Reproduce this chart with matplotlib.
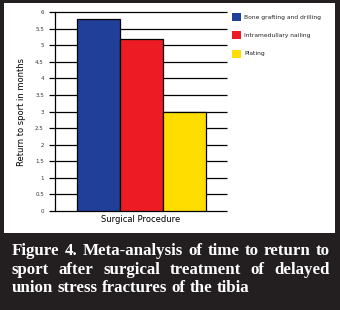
import matplotlib
matplotlib.use('Agg')
import matplotlib.pyplot as plt
from matplotlib.patches import Rectangle

categories = ['Bone grafting and drilling', 'Intramedullary nailing', 'Plating']
values = [5.8, 5.2, 3.0]
bar_colors = ['#1f3f99', '#ed1c24', '#ffdd00']
yticks = [0, 0.5, 1, 1.5, 2, 2.5, 3, 3.5, 4, 4.5, 5, 5.5, 6]
ytick_labels = ['0', '0.5', '1', '1.5', '2', '2.5', '3', '3.5', '4', '4.5', '5', '5.5', '6']
ylabel = 'Return to sport in months'
xlabel = 'Surgical Procedure'
caption_lines = ['Figure 4. Meta-analysis of time to return to',
                 'sport after surgical treatment of delayed',
                 'union stress fractures of the tibia']

W, H = 340, 310
DARK = '#231f20'
fig = plt.figure(figsize=(W / 100, H / 100), dpi=100)
fig.patch.set_facecolor(DARK)

# white panel
fig.patches.append(Rectangle((4 / W, 1 - 233 / H), (335 - 4) / W, (233 - 3) / H,
                             transform=fig.transFigure, facecolor='white',
                             edgecolor='none', zorder=-5))

ax = fig.add_axes([55 / W, 1 - 211 / H, 172 / W, 199 / H])
ax.set_zorder(1)
ax.set_facecolor('none')
x = list(range(len(values)))
ax.bar(x, values, width=1, color=bar_colors, edgecolor='black', linewidth=0.9, zorder=3)
ax.set_xlim(-1.0, 3.0)
ax.set_ylim(0, 6)
ax.hlines(yticks, 0, 1, transform=ax.get_yaxis_transform(), colors='black',
          linewidth=0.9, clip_on=False, zorder=1)
ax.set_yticks(yticks)
ax.set_yticklabels(ytick_labels, fontsize=4, color='#333333')
ax.tick_params(axis='y', length=4, width=0.9, pad=4)
ax.set_xticks([])
for s in ['top', 'right', 'bottom']:
    ax.spines[s].set_visible(False)
ax.spines['left'].set_linewidth(0.9)

ax.set_ylabel(ylabel, fontsize=6, family='DejaVu Sans')
ax.yaxis.label.set_va('center')
ax.yaxis.set_label_coords((22 - 55) / 172, 0.5)
ax.set_xlabel(xlabel, fontsize=6, family='DejaVu Sans')
ax.xaxis.label.set_va('center')
ax.xaxis.set_label_coords(0.5, (211 - 220) / 199)

# legend
centers = [17, 35, 53.5]
for cat, col, cy in zip(categories, bar_colors, centers):
    fig.patches.append(Rectangle((232 / W, 1 - (cy + 4) / H), 9 / W, 8 / H,
                                 transform=fig.transFigure, facecolor=col,
                                 edgecolor='none', zorder=2))
    fig.text(244 / W, 1 - cy / H, cat, fontsize=4.3, va='center', ha='left', color='#222222')

# caption, justified
fig.canvas.draw()
r = fig.canvas.get_renderer()
left, right = 12, 330
baselines = [255, 273.5, 292]
fs = 12.2
for i, line in enumerate(caption_lines):
    words = line.split()
    y = 1 - baselines[i] / H
    texts = [fig.text(0, y, w, fontsize=fs, family='Liberation Serif', weight='bold',
                      color='white', va='baseline', ha='left') for w in words]
    widths = [t.get_window_extent(r).width for t in texts]
    if i < len(caption_lines) - 1:
        gap = (right - left - sum(widths)) / (len(words) - 1)
    else:
        gap = fs * 100 / 72 * 0.25
    xp = left
    for t, w in zip(texts, widths):
        t.set_x(xp / W)
        xp += w + gap

fig.savefig('out.png', dpi=100, facecolor=DARK)
